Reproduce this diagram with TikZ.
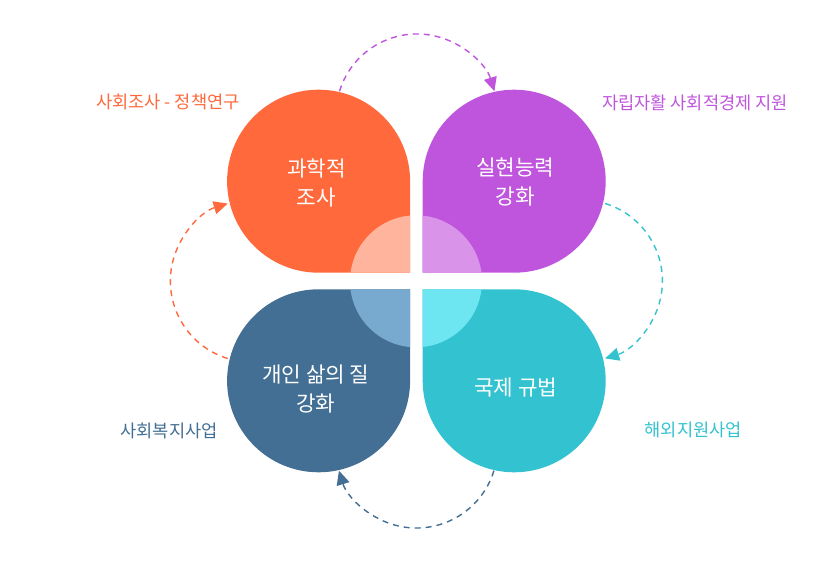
\documentclass[tikz,border=0pt]{standalone}
\usepackage{fontspec}
\setmainfont{Noto Sans CJK KR}
\usetikzlibrary{arrows.meta}
\definecolor{cor}{HTML}{FF693C}
\definecolor{cpu}{HTML}{C055DD}
\definecolor{cbl}{HTML}{426F93}
\definecolor{cte}{HTML}{33C2CF}
\definecolor{lor}{HTML}{FFB49D}
\definecolor{lpu}{HTML}{D993E8}
\definecolor{lbl}{HTML}{78AAD0}
\definecolor{lte}{HTML}{6DE6F1}
\tikzset{
  maintext/.style={text=white, inner sep=0pt, align=center, font=\fontsize{21.3}{29}\selectfont},
  sidelabel/.style={inner sep=0pt, font=\fontsize{17.6}{20}\selectfont},
  cycleline/.style={line width=1.4pt, dash pattern=on 6pt off 5pt, -{Triangle[length=14pt,width=13pt]}},
}
\begin{document}
\begin{tikzpicture}[x=1pt,y=1pt]
\useasboundingbox (0,0) rectangle (833,560);
% connector end points
\coordinate (a1) at (339.5,468.7);
\coordinate (a2) at (605.1,356.5);
\coordinate (a3) at (493.9,89.3);
\coordinate (a4) at (227.7,201.5);
% dashed cycle arrows
\draw[cycleline, cpu] (a1) arc[start angle=163, end angle=17, radius=81];
\draw[cycleline, cte] (a2) arc[start angle=73, end angle=-73, radius=81];
\draw[cycleline, cbl] (a3) arc[start angle=-17, end angle=-163, radius=81];
\draw[cycleline, cor] (a4) arc[start angle=-107, end angle=-253, radius=81];
% petals
\def\petTL{(410.1,287.3) -- (410.1,378.8) arc[start angle=0,end angle=270,radius=91.5] -- cycle}
\def\petTR{(422.7,287.3) -- (514.2,287.3) arc[start angle=-90,end angle=180,radius=91.5] -- cycle}
\def\petBR{(422.7,270.7) -- (422.7,179.2) arc[start angle=180,end angle=450,radius=91.5] -- cycle}
\def\petBL{(410.1,270.7) -- (318.6,270.7) arc[start angle=90,end angle=360,radius=91.5] -- cycle}
\fill[cor] \petTL;
\fill[cpu] \petTR;
\fill[cte] \petBR;
\fill[cbl] \petBL;
\begin{scope}\clip \petTL; \fill[lor] (416,278.7) circle[radius=66]; \end{scope}
\begin{scope}\clip \petTR; \fill[lpu] (416,278.7) circle[radius=66]; \end{scope}
\begin{scope}\clip \petBR; \fill[lte] (416,278.7) circle[radius=66]; \end{scope}
\begin{scope}\clip \petBL; \fill[lbl] (416,278.7) circle[radius=66]; \end{scope}
% texts
\node[maintext] (t1) at (316.5,377.3) {과학적\\조사};
\node[maintext] (t2) at (515.3,377.5) {실현능력\\강화};
\node[maintext] (t3) at (315.8,171) {개인 삶의 질\\강화};
\node[maintext] (t4) at (515.8,172) {국제 규법};
\node[sidelabel, text=cor] (l1) at (168,458) {사회조사 - 정책연구};
\node[sidelabel, text=cpu] (l2) at (695,457) {자립자활 사회적경제 지원};
\node[sidelabel, text=cbl] (l3) at (169,129) {사회복지사업};
\node[sidelabel, text=cte] (l4) at (693.3,130) {해외지원사업};
\end{tikzpicture}
\end{document}
